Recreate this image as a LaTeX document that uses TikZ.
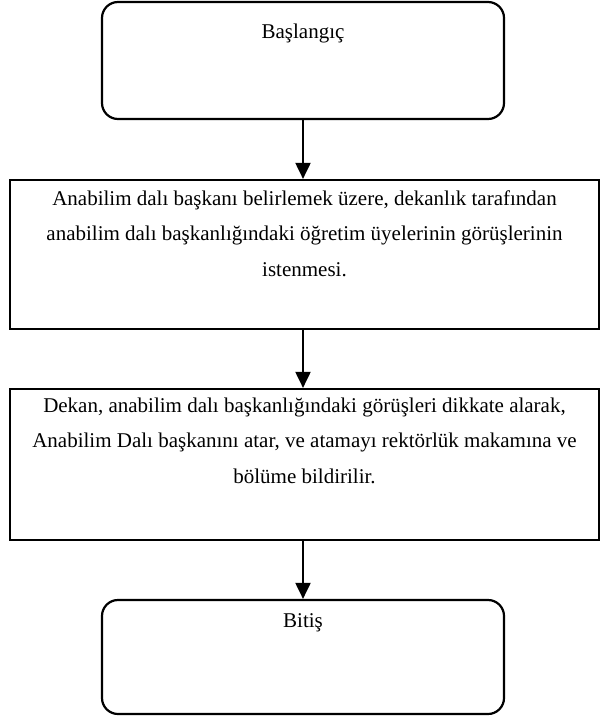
\documentclass[tikz,border=0pt]{standalone}
\usepackage{fontspec}
\setmainfont{Liberation Serif}
\usetikzlibrary{positioning,arrows.meta}

\tikzset{
  startstop/.style={draw, line width=2.2pt, rounded corners=16pt, inner sep=0pt},
  process/.style={draw, line width=2.2pt, inner sep=0pt},
  arrow/.style={line width=2pt, -{Triangle[length=16pt,width=15pt]}}
}
% box text: width, height, first baseline
\newcommand{\boxtext}[4]{\parbox[c][#2][t]{#1}{\centering\fontsize{21}{35.5}\selectfont\rule{0pt}{#3}#4}}

\begin{document}
\begin{tikzpicture}[x=1pt,y=-1pt]
    \useasboundingbox (0,0) rectangle (600,722);
    \node[startstop] (start) at (303,60.5) {\boxtext{402pt}{117pt}{37pt}{Başlangıç}};
    \node[process] (ask) at (304.5,254.5) {\boxtext{589pt}{149pt}{25pt}{Anabilim dalı başkanı belirlemek üzere, dekanlık tarafından\\
        anabilim dalı başkanlığındaki öğretim üyelerinin görüşlerinin\\
        istenmesi.}};
    \node[process] (assign) at (304.5,464.5) {\boxtext{589pt}{151pt}{23pt}{Dekan, anabilim dalı başkanlığındaki görüşleri dikkate alarak,\\
        Anabilim Dalı başkanını atar, ve atamayı rektörlük makamına ve\\
        bölüme bildirilir.}};
    \node[startstop] (stop) at (303,657) {\boxtext{402pt}{114pt}{27pt}{Bitiş}};
    \draw[arrow] (start.south) -- (start.south |- ask.north);
    \draw[arrow] (start.south |- ask.south) -- (start.south |- assign.north);
    \draw[arrow] (start.south |- assign.south) -- (stop.north);
\end{tikzpicture}
\end{document}
